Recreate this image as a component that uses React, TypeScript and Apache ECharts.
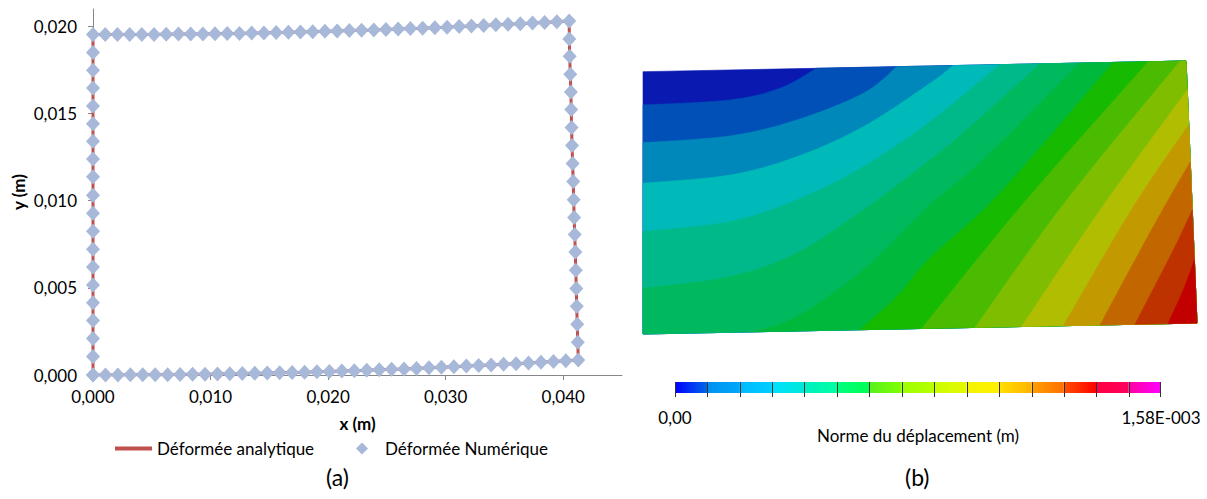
import React, { useEffect, useRef } from 'react';
import * as echarts from 'echarts';

const FONT = 'Lato, "Open Sans", sans-serif';

// ---------- (a) deformed boundary ----------
const xTicks = [0, 0.01, 0.02, 0.03, 0.04];
const yTicks = [0, 0.005, 0.01, 0.015, 0.02];

// bottom edge, left -> right
const bottomX = [0, 0.00106, 0.00212, 0.00318, 0.00423, 0.00529, 0.00635, 0.00741, 0.00847, 0.00953,
  0.01059, 0.01164, 0.0127, 0.01376, 0.01482, 0.01588, 0.01694, 0.018, 0.01905, 0.02011,
  0.02117, 0.02223, 0.02329, 0.02435, 0.0254, 0.02646, 0.02752, 0.02858, 0.02964, 0.0307,
  0.03176, 0.03281, 0.03387, 0.03493, 0.03599, 0.03705, 0.03811, 0.03917, 0.04022, 0.04128];
const bottomY = [0, 0, 0, 0.00001, 0.00001, 0.00001, 0.00002, 0.00003, 0.00004, 0.00005,
  0.00006, 0.00007, 0.00008, 0.0001, 0.00011, 0.00013, 0.00015, 0.00016, 0.00018, 0.0002,
  0.00023, 0.00025, 0.00027, 0.0003, 0.00033, 0.00035, 0.00038, 0.00041, 0.00044, 0.00048,
  0.00051, 0.00054, 0.00058, 0.00062, 0.00065, 0.00069, 0.00073, 0.00077, 0.00082, 0.00086];
// right edge, bottom -> top
const rightX = [0.04128, 0.04124, 0.04119, 0.04115, 0.04111, 0.04107, 0.04103, 0.04098, 0.04093, 0.04089,
  0.04085, 0.0408, 0.04075, 0.04071, 0.04068, 0.04065, 0.0406, 0.04055, 0.04052, 0.04051];
const rightY = [0.00086, 0.00188, 0.00291, 0.00394, 0.00496, 0.00601, 0.00706, 0.00806, 0.00903, 0.01006,
  0.0111, 0.01213, 0.01317, 0.0142, 0.01523, 0.01624, 0.01725, 0.01829, 0.01928, 0.02031];
// top edge, left -> right
const topX = [0, 0.00104, 0.00208, 0.00312, 0.00415, 0.00519, 0.00623, 0.00727, 0.00831, 0.00935,
  0.01038, 0.01142, 0.01246, 0.0135, 0.01454, 0.01558, 0.01662, 0.01765, 0.01869, 0.01973,
  0.02077, 0.02181, 0.02285, 0.02389, 0.02492, 0.02596, 0.027, 0.02804, 0.02908, 0.03012,
  0.03115, 0.03219, 0.03323, 0.03427, 0.03531, 0.03635, 0.03739, 0.03842, 0.03946, 0.04051];
const topY = [0.01953, 0.01953, 0.01953, 0.01953, 0.01954, 0.01954, 0.01955, 0.01956, 0.01956, 0.01957,
  0.01958, 0.01959, 0.0196, 0.01962, 0.01963, 0.01965, 0.01966, 0.01968, 0.0197, 0.01972,
  0.01974, 0.01976, 0.01978, 0.0198, 0.01983, 0.01985, 0.01988, 0.0199, 0.01993, 0.01996,
  0.01999, 0.02002, 0.02006, 0.02009, 0.02012, 0.02016, 0.0202, 0.02023, 0.02027, 0.02031];
// left edge, bottom -> top
const leftX = [0, 0, 0, 0, 0, 0, 0, 0, 0, 0, 0, 0, 0, 0, 0, 0, 0, 0, 0, 0];
const leftY = [0, 0.00106, 0.00209, 0.00312, 0.00415, 0.00516, 0.0062, 0.00722, 0.00825, 0.00928,
  0.01031, 0.01138, 0.01239, 0.01341, 0.01442, 0.01543, 0.01647, 0.01748, 0.0185, 0.01953];

// ---------- (b) contour map (deformed mesh, mm) ----------
const quadCorners: Record<string, number[]> = {
  TL: [0, 18.94], TR: [39.21, 19.71], BR: [40.0, 0.79], BL: [0, 0],
};
const bandColors = ['#0A1AB0', '#0050B8', '#0088BA', '#00B9B9', '#00B98A', '#00B85E', '#00B83C',
  '#16BA00', '#4ABB00', '#7EBD00', '#B0BD00', '#C29A00', '#C26600', '#BE3200', '#C20000'];
const contourBoundaries: number[][][] = [
  [[0, 16.53], [6.28, 16.9], [9.89, 17.74], [12.54, 19.19]],
  [[0, 13.81], [6.28, 14.3], [11.1, 15.45], [15.91, 17.38], [18.32, 19.3]],
  [[0, 10.88], [6.28, 11.48], [11.1, 12.8], [15.91, 14.97], [20.72, 18.1], [22.38, 19.38]],
  [[0, 7.39], [6.28, 8.11], [11.1, 9.68], [15.91, 12.08], [20.72, 15.33], [25.78, 19.45]],
  [[0, 3.3], [6.28, 4.14], [11.1, 5.83], [15.91, 8.95], [20.72, 12.56], [23.37, 14.73], [28.66, 19.5]],
  [[7.96, 0.16], [11.1, 1.25], [15.91, 4.62], [20.72, 9.31], [24.55, 12.56], [31.55, 19.56]],
  [[15.67, 0.31], [18.32, 2.69], [20.72, 5.47], [25.78, 10.18], [33.94, 19.6]],
  [[20.12, 0.4], [27.36, 9.31], [36.48, 19.66]],
  [[23.97, 0.47], [30.59, 9.68], [38.77, 19.7]],
  [[27.34, 0.54], [33.0, 8.95], [39.3, 17.62]],
  [[30.35, 0.6], [35.4, 9.19], [39.4, 15.09]],
  [[33.0, 0.65], [36.84, 7.75], [39.51, 12.42]],
  [[35.52, 0.7], [38.29, 6.06], [39.66, 8.95]],
  [[37.91, 0.75], [39.01, 3.18], [39.81, 5.34]],
];
const boundaryClosing = [
  ['TR', 'BR', 'BL'], ['TR', 'BR', 'BL'], ['TR', 'BR', 'BL'], ['TR', 'BR', 'BL'], ['TR', 'BR', 'BL'],
  ['TR', 'BR'], ['TR', 'BR'], ['TR', 'BR'], ['TR', 'BR'],
  ['BR'], ['BR'], ['BR'], ['BR'], ['BR'],
];

// ---------- colour bar ----------
const cbLevels = [0, 0.000105, 0.000211, 0.000316, 0.000421, 0.000527, 0.000632, 0.000737,
  0.000843, 0.000948, 0.001053, 0.001159, 0.001264, 0.001369, 0.001475, 0.00158];
const cbStart = ['#0000FF', '#0090F0', '#00B8FF', '#00E0FF', '#00F0C4', '#00FF80', '#58F020', '#9CFF00',
  '#C8FF00', '#F4F400', '#FFE000', '#FFA000', '#FF5000', '#FF0040', '#FF00A0'];
const cbEnd = ['#0068E8', '#00A8F8', '#00D0FF', '#00E8D8', '#00FFA0', '#00FF50', '#80FF00', '#B8FF00',
  '#E8F800', '#FFF000', '#FFB400', '#FF7000', '#FF0000', '#FF0060', '#FF00FF'];
const cbTickLabels = ['0,00', '1,58E-003'];

// Catmull-Rom smoothing of a screen-space polyline (rendering only)
function smoothCurve(pts: number[][], seg = 10): number[][] {
  const out: number[][] = [];
  const n = pts.length;
  for (let i = 0; i < n - 1; i++) {
    const p0 = pts[Math.max(i - 1, 0)], p1 = pts[i], p2 = pts[i + 1], p3 = pts[Math.min(i + 2, n - 1)];
    for (let s = 0; s < seg; s++) {
      const t = s / seg, t2 = t * t, t3 = t2 * t;
      const f = (k: number) => 0.5 * (2 * p1[k] + (-p0[k] + p2[k]) * t
        + (2 * p0[k] - 5 * p1[k] + 4 * p2[k] - p3[k]) * t2 + (-p0[k] + 3 * p1[k] - 3 * p2[k] + p3[k]) * t3);
      out.push([f(0), f(1)]);
    }
  }
  out.push(pts[n - 1]);
  return out;
}

export default function App() {
  const ref = useRef<HTMLDivElement>(null);
  useEffect(() => {
    if (!ref.current) return;
    const chart = echarts.init(ref.current, undefined, { renderer: 'svg' });

    const path: number[][] = [];
    bottomX.forEach((x, i) => path.push([x, bottomY[i]]));
    rightX.forEach((x, i) => { if (i > 0) path.push([x, rightY[i]]); });
    for (let i = topX.length - 2; i >= 0; i--) path.push([topX[i], topY[i]]);
    for (let i = leftX.length - 2; i >= 0; i--) path.push([leftX[i], leftY[i]]);

    const txt = { fontFamily: FONT, fontSize: 17, color: '#000' };
    const fmt3 = (v: number) => v.toFixed(3).replace('.', ',');

    chart.setOption({
      animation: false,
      title: [
        { text: '(a)', left: 326, top: 465, padding: 0, textStyle: { ...txt, fontSize: 23, fontWeight: 'normal' } },
        { text: '(b)', left: 905, top: 465, padding: 0, textStyle: { ...txt, fontSize: 23, fontWeight: 'normal' } },
      ],
      legend: [
        {
          data: [{ name: 'Déformée analytique', icon: 'rect' }], left: 115, top: 440, padding: 0,
          itemWidth: 37, itemHeight: 4, textStyle: txt, selectedMode: false,
        },
        {
          data: [{ name: 'Déformée Numérique', icon: 'diamond' }], left: 356, top: 440, padding: 0,
          itemWidth: 12, itemHeight: 12, textStyle: { ...txt, padding: [0, 0, 0, 12] }, selectedMode: false,
        },
      ],
      grid: [
        { left: 93, top: 9, width: 529, height: 366 },
        { left: 643, top: 57, width: 554, height: 277 },
        { left: 675, top: 382, width: 486, height: 11 },
      ],
      xAxis: [
        {
          type: 'value', gridIndex: 0, min: 0, max: 0.045,
          name: 'x (m)', nameLocation: 'middle', nameGap: 40,
          nameTextStyle: { ...txt, fontWeight: 'bold' },
          axisLine: { lineStyle: { color: '#868686', width: 1 } },
          axisTick: { show: true, length: 5, customValues: xTicks, lineStyle: { color: '#868686' } },
          axisLabel: { ...txt, margin: 13, customValues: xTicks, formatter: fmt3 },
          splitLine: { show: false },
        },
        { type: 'value', gridIndex: 1, min: 0, max: 40, show: false },
        {
          type: 'value', gridIndex: 2, min: 0, max: 0.00158,
          name: 'Norme du déplacement (m)', nameLocation: 'middle', nameGap: 27,
          nameTextStyle: txt,
          axisLine: { show: false }, axisTick: { show: false }, splitLine: { show: false },
          axisLabel: {
            ...txt, margin: 16, customValues: [cbLevels[0], cbLevels[cbLevels.length - 1]],
            formatter: (v: number) => (v === 0 ? cbTickLabels[0] : cbTickLabels[1]),
          },
        },
      ],
      yAxis: [
        {
          type: 'value', gridIndex: 0, min: 0, max: 0.021,
          name: 'y (m)', nameLocation: 'middle', nameGap: 66,
          nameTextStyle: { ...txt, fontWeight: 'bold' },
          axisLine: { show: true, lineStyle: { color: '#868686', width: 1 } },
          axisTick: { show: true, length: 5, customValues: yTicks, lineStyle: { color: '#868686' } },
          axisLabel: { ...txt, margin: 16, customValues: yTicks, formatter: fmt3 },
          splitLine: { show: false },
        },
        { type: 'value', gridIndex: 1, min: 0, max: 20, show: false },
        { type: 'value', gridIndex: 2, min: 0, max: 1, show: false },
      ],
      series: [
        {
          type: 'line', name: 'Déformée analytique', xAxisIndex: 0, yAxisIndex: 0, z: 2,
          data: path, symbol: 'none', color: '#C0504D',
          lineStyle: { color: '#C0504D', width: 3 }, itemStyle: { color: '#C0504D' },
        },
        {
          type: 'scatter', name: 'Déformée Numérique', xAxisIndex: 0, yAxisIndex: 0, z: 3,
          data: path, symbol: 'diamond', symbolSize: [14, 15], color: '#A7B8D9',
          itemStyle: { color: '#A7B8D9', opacity: 1 },
        },
        {
          type: 'custom', xAxisIndex: 1, yAxisIndex: 1, clip: false,
          data: bandColors.map((_, i) => [i]),
          renderItem: (params: any, api: any) => {
            const i = api.value(0);
            let pts: number[][];
            if (i === 0) {
              pts = [quadCorners.TL, quadCorners.TR, quadCorners.BR, quadCorners.BL].map((p) => api.coord(p));
            } else {
              const curve = smoothCurve(contourBoundaries[i - 1].map((p) => api.coord(p)));
              pts = [...curve, ...boundaryClosing[i - 1].map((k) => api.coord(quadCorners[k]))];
            }
            return {
              type: 'polygon',
              shape: { points: pts },
              style: { fill: bandColors[i], stroke: bandColors[i], lineWidth: 0.6 },
            };
          },
        },
        {
          type: 'custom', xAxisIndex: 2, yAxisIndex: 2, clip: false,
          data: cbStart.map((_, i) => [cbLevels[i]]),
          renderItem: (params: any, api: any) => {
            const i = params.dataIndex;
            const cs = params.coordSys;
            const x0 = api.coord([cbLevels[i], 0])[0];
            const x1 = api.coord([cbLevels[i + 1], 0])[0];
            const children: any[] = [
              {
                type: 'rect',
                shape: { x: x0, y: cs.y, width: x1 - x0, height: cs.height },
                style: {
                  fill: new echarts.graphic.LinearGradient(0, 0, 1, 0, [
                    { offset: 0, color: cbStart[i] }, { offset: 1, color: cbEnd[i] },
                  ]),
                },
              },
              {
                type: 'line',
                shape: { x1: Math.round(x0) + 0.5, y1: cs.y, x2: Math.round(x0) + 0.5, y2: cs.y + cs.height + 4 },
                style: { stroke: '#333', lineWidth: 1 },
              },
            ];
            if (i === cbStart.length - 1) {
              children.push({
                type: 'line',
                shape: { x1: Math.round(x1) - 0.5, y1: cs.y, x2: Math.round(x1) - 0.5, y2: cs.y + cs.height + 4 },
                style: { stroke: '#333', lineWidth: 1 },
              });
            }
            return { type: 'group', children };
          },
        },
      ],
    });
    return () => chart.dispose();
  }, []);
  return (
    <div
      ref={ref}
      style={{ position: 'fixed', left: 0, top: 0, width: 1207, height: 499, background: '#fff' }}
    />
  );
}
